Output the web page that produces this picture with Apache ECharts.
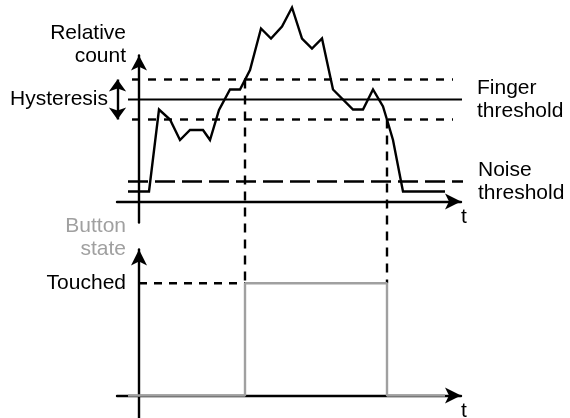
<!DOCTYPE html>
<html>
<head>
<meta charset="utf-8">
<script src="https://cdn.jsdelivr.net/npm/echarts@6/dist/echarts.min.js"></script>
<style>
html,body{margin:0;padding:0;background:#fff;}
#c{width:570px;height:418px;}
</style>
</head>
<body>
<div id="c"></div>
<script>
// ---- data (t in arbitrary time units, count in arbitrary units) ----
const signalT = [-1.1, 1.0, 2.0, 3.1, 4.1, 5.1, 6.4, 7.1, 8.0, 9.1, 10.1, 11.1, 12.2, 13.2, 14.3, 15.3, 16.3, 17.3, 18.3, 19.4, 21.4, 22.4, 23.4, 24.4, 24.9, 25.4, 26.4, 30.6];
const signalCount = [1.0, 1.0, 9.2, 8.2, 6.15, 7.15, 7.15, 6.15, 9.15, 11.2, 11.2, 13.15, 17.3, 16.3, 17.5, 19.4, 16.3, 15.3, 16.3, 11.2, 9.2, 9.2, 11.2, 9.5, 7.85, 6.15, 1.0, 1.0];
const fingerThreshold = 10.2;
const hysteresisUpper = 12.2;
const hysteresisLower = 8.2;
const noiseThreshold = 2.0;
const fingerSpanT = [-1.1, 32.6];
const hysteresisSpanT = [-0.7, 31.4];
const noiseSpanT = [-1.1, 32.5];
const hysteresisArrowT = -2.15;
const stateT = [-1.1, 10.6, 24.8, 30.6];
const stateValue = [0, 1, 0, 0];
const touchOnT = 10.6;
const touchOffT = 24.8;
const touchedLevel = 1;
const yLabelTop = 'Relative\ncount';
const yLabelBottom = 'Button\nstate';
const xLabel = 't';
const fingerLabel = 'Finger\nthreshold';
const noiseLabel = 'Noise\nthreshold';
const hysteresisLabel = 'Hysteresis';
const touchedLabel = 'Touched';

// ---- styling ----
const FONT = '"Liberation Sans", Arial, Helvetica, sans-serif';
const FS = 21;
const BLACK = '#000';
const GRAY = '#a0a0a0';
const LW = 2.4;

function txt(extra) {
  return Object.assign({ color: BLACK, fontSize: FS, fontFamily: FONT, lineHeight: 23 }, extra || {});
}
function axisLineStyle(size) {
  return { show: true, onZero: true, symbol: ['none', 'arrow'], symbolSize: size, lineStyle: { color: BLACK, width: LW } };
}
function lineSer(id, gi, data, lineStyle, extra) {
  return Object.assign({
    id: id, type: 'line', xAxisIndex: gi, yAxisIndex: gi, data: data,
    symbol: 'none', showSymbol: false, clip: false, silent: true, animation: false,
    lineStyle: lineStyle
  }, extra || {});
}
const span = (ts, v) => ts.map(t => [t, v]);

const chart = echarts.init(document.getElementById('c'), null, { renderer: 'canvas' });

const option = {
  backgroundColor: '#fff',
  animation: false,
  grid: [
    { left: 117, top: 55.5, width: 344, height: 167, containLabel: false, outerBoundsMode: 'none' },
    { left: 117, top: 249.5, width: 344, height: 168.45, containLabel: false, outerBoundsMode: 'none' }
  ],
  xAxis: [
    { gridIndex: 0, type: 'value', min: -2.2, max: 32.2,
      axisLine: axisLineStyle([12, 16]), axisTick: { show: false }, axisLabel: { show: false }, splitLine: { show: false },
      name: xLabel, nameLocation: 'end', nameGap: 3,
      nameTextStyle: txt({ align: 'center', verticalAlign: 'top', padding: [4, 0, 0, 0] }) },
    { gridIndex: 1, type: 'value', min: -2.2, max: 32.2,
      axisLine: axisLineStyle([12, 16]), axisTick: { show: false }, axisLabel: { show: false }, splitLine: { show: false },
      name: xLabel, nameLocation: 'end', nameGap: 3,
      nameTextStyle: txt({ align: 'center', verticalAlign: 'top', padding: [4, 0, 0, 0] }) }
  ],
  yAxis: [
    { gridIndex: 0, type: 'value', min: -2.1, max: 14.6,
      axisLine: axisLineStyle([12, 15]), axisTick: { show: false }, splitLine: { show: false },
      axisLabel: { show: true, customValues: [fingerThreshold], formatter: () => hysteresisLabel, margin: 9,
                   color: BLACK, fontSize: FS, fontFamily: FONT },
      name: yLabelTop, nameLocation: 'end', nameGap: 11,
      nameTextStyle: txt({ align: 'right', verticalAlign: 'middle', padding: [0, 13, 0, 0] }) },
    { gridIndex: 1, type: 'value', min: -0.2, max: 1.3,
      axisLine: axisLineStyle([12, 16]), axisTick: { show: false }, splitLine: { show: false },
      axisLabel: { show: true, customValues: [touchedLevel], formatter: () => touchedLabel, margin: -9,
                   color: BLACK, fontSize: FS, fontFamily: FONT },
      name: yLabelBottom, nameLocation: 'end', nameGap: 12,
      nameTextStyle: txt({ color: GRAY, align: 'right', verticalAlign: 'middle', padding: [0, 13, 0, 0] }) }
  ],
  series: [
    lineSer('hystUpper', 0, span(hysteresisSpanT, hysteresisUpper), { color: BLACK, width: LW, type: [8, 8] }),
    lineSer('hystLower', 0, span(hysteresisSpanT, hysteresisLower), { color: BLACK, width: LW, type: [8, 8] }),
    lineSer('noise', 0, span(noiseSpanT, noiseThreshold), { color: BLACK, width: LW, type: [20, 7] }, {
      endLabel: Object.assign({ show: true, formatter: noiseLabel, distance: 15 }, txt())
    }),
    lineSer('finger', 0, span(fingerSpanT, fingerThreshold), { color: BLACK, width: 2 }, {
      endLabel: Object.assign({ show: true, formatter: fingerLabel, distance: 15 }, txt()),
      markLine: {
        silent: true, animation: false, symbol: ['arrow', 'arrow'], symbolSize: [13, 12],
        lineStyle: { type: 'solid', color: BLACK, width: LW }, label: { show: false },
        data: [[{ coord: [hysteresisArrowT, hysteresisUpper] }, { coord: [hysteresisArrowT, hysteresisLower] }]]
      }
    }),
    lineSer('signal', 0, signalT.map((t, i) => [t, signalCount[i]]), { color: BLACK, width: LW, join: 'miter' }, { z: 5 }),
    lineSer('touchedGuide', 1, [[0, touchedLevel], [touchOnT, touchedLevel]], { color: BLACK, width: LW, type: [8, 7] }),
    lineSer('conOn', 1, [], { color: BLACK, width: LW, type: [9, 7] }),
    lineSer('conOff', 1, [], { color: BLACK, width: LW, type: [9, 7] }),
    lineSer('state', 1, stateT.map((t, i) => [t, stateValue[i]]), { color: GRAY, width: LW }, { step: 'end', z: 4 })
  ]
};

chart.setOption(option);

// vertical connectors: from the hysteresis crossing in the top panel down to the "Touched" level
const pOn = chart.convertToPixel({ gridIndex: 0 }, [touchOnT, hysteresisUpper]);
const pOff = chart.convertToPixel({ gridIndex: 0 }, [touchOffT, hysteresisLower]);
const vOn = chart.convertFromPixel({ gridIndex: 1 }, pOn)[1];
const vOff = chart.convertFromPixel({ gridIndex: 1 }, pOff)[1];
chart.setOption({
  series: [
    { id: 'conOn', data: [[touchOnT, vOn], [touchOnT, touchedLevel]] },
    { id: 'conOff', data: [[touchOffT, vOff], [touchOffT, touchedLevel]] }
  ]
});
</script>
</body>
</html>
